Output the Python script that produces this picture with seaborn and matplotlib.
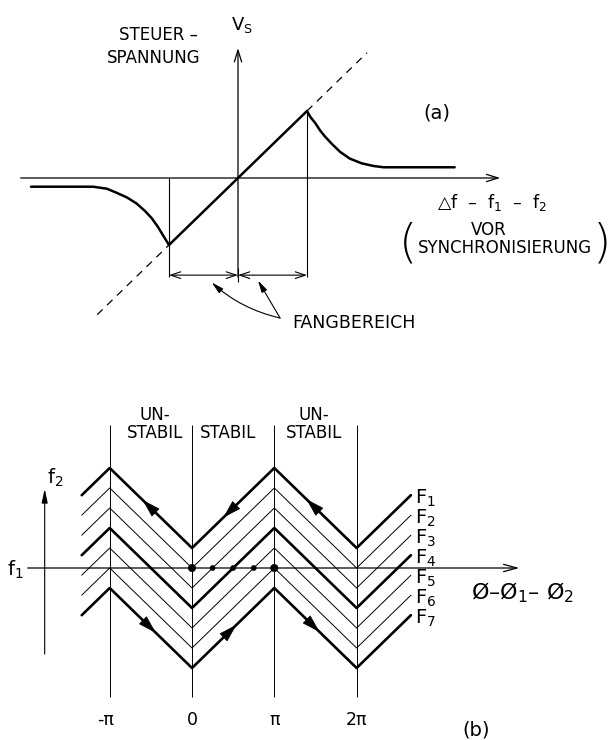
import numpy as np
import seaborn as sns
import matplotlib
matplotlib.use("Agg")
import matplotlib.pyplot as plt

sns.set_theme(style="white")
plt.rcParams["font.family"] = ["DejaVu Sans"]
plt.rcParams["mathtext.fontset"] = "dejavusans"
plt.rcParams["mathtext.default"] = "regular"
plt.rcParams["text.color"] = "black"

# ---- panel (a): Steuerspannung over frequency difference ----
lock_x = [-1.0, 1.0]
lock_y = [-1.0, 1.0]
dash_lo = [-2.04, -1.0]
dash_hi = [1.0, 1.87]
right_x = [1.00, 1.05, 1.12, 1.19, 1.26, 1.36, 1.48, 1.62, 1.79, 1.96, 2.11, 3.14]
right_y = [1.00, 0.91, 0.82, 0.71, 0.62, 0.51, 0.39, 0.29, 0.22, 0.18, 0.16, 0.16]
left_x = [-3.00, -2.10, -1.90, -1.76, -1.61, -1.47, -1.35, -1.25, -1.16, -1.09, -1.00]
left_y = [-0.13, -0.13, -0.16, -0.22, -0.29, -0.38, -0.49, -0.60, -0.73, -0.85, -1.00]
capture_edges = [-1.0, 1.0]
range_y = -1.45

# ---- panel (b): phase plane ----
phase_x = [-1.34, -1, 0, 1, 2, 2.66]          # in units of pi
zig = [0.32, 1, -1, 1, -1, 0.32]
offsets = [1.5, 1.0, 0.5, 0.0, -0.5, -1.0, -1.5]
names = ["F$_1$", "F$_2$", "F$_3$", "F$_4$", "F$_5$", "F$_6$", "F$_7$"]
thick = [True, False, False, True, False, False, True]
dot_x = [0, 0.25, 0.5, 0.75, 1.0]
dot_size = [30, 14, 14, 14, 30]
tick_pos = [-1, 0, 1, 2]
tick_lab = ["-π", "0", "π", "2π"]
arrow_x = [-0.52, 0.46, 1.47]

fig = plt.figure(figsize=(6.11, 7.40), dpi=100)
ax = fig.add_axes([0, 0.5, 1, 0.5])
bx = fig.add_axes([0, 0, 1, 0.5])

k = "black"

# panel (a)
ax.annotate("", xy=(3.84, 0), xytext=(-3.19, 0),
            arrowprops=dict(arrowstyle="->,head_length=0.7,head_width=0.22", color=k, lw=0.9))
ax.annotate("", xy=(0, 1.98), xytext=(0, -1.52),
            arrowprops=dict(arrowstyle="->,head_length=0.7,head_width=0.22", color=k, lw=0.9))
sns.lineplot(x=dash_lo, y=dash_lo, ax=ax, color=k, lw=0.9, linestyle=(0, (6, 5)))
sns.lineplot(x=dash_hi, y=dash_hi, ax=ax, color=k, lw=0.9, linestyle=(0, (6, 5)))
sns.lineplot(x=lock_x, y=lock_y, ax=ax, color=k, lw=1.8)
sns.lineplot(x=right_x, y=right_y, ax=ax, color=k, lw=1.8)
sns.lineplot(x=left_x, y=left_y, ax=ax, color=k, lw=1.8)
ax.vlines(capture_edges, [range_y - 0.03, range_y - 0.03], [0, 1], color=k, lw=0.8)
for e in capture_edges:
    ax.annotate("", xy=(e, range_y), xytext=(0, range_y),
                arrowprops=dict(arrowstyle="<->,head_length=0.6,head_width=0.2",
                                color=k, lw=0.8, shrinkA=0, shrinkB=0))
ax.vlines([0], [range_y - 0.1], [range_y + 0.1], color=k, lw=0.8)
ax.annotate("", xy=(-0.38, -1.56), xytext=(0.61, -2.09),
            arrowprops=dict(arrowstyle="-|>,head_length=0.6,head_width=0.15", color=k, lw=0.8,
                            connectionstyle="arc3,rad=-0.13", shrinkA=0, shrinkB=0))
ax.annotate("", xy=(0.29, -1.53), xytext=(0.61, -2.09),
            arrowprops=dict(arrowstyle="-|>,head_length=0.6,head_width=0.15", color=k, lw=0.8,
                            shrinkA=0, shrinkB=0))
ax.text(0.78, -2.16, "FANGBEREICH", fontsize=12.5, ha="left", va="center")
ax.text(0.06, 2.28, "V$_S$", fontsize=13, ha="center", va="center")
ax.text(-1.15, 2.13, "STEUER –", fontsize=12, ha="center", va="center")
ax.text(-1.22, 1.79, "SPANNUNG", fontsize=12, ha="center", va="center")
ax.text(2.88, 0.97, "(a)", fontsize=14, ha="center", va="center")
ax.text(3.68, -0.37, "△f  –  f$_1$  –  f$_2$", fontsize=12.5, ha="center", va="center")
ax.text(3.64, -0.78, "VOR", fontsize=12, ha="center", va="center")
ax.text(3.87, -1.04, "SYNCHRONISIERUNG", fontsize=12, ha="center", va="center")
ax.text(2.46, -0.98, "(", fontsize=34, ha="center", va="center", fontweight="light")
ax.text(5.27, -0.98, ")", fontsize=34, ha="center", va="center", fontweight="light")
ax.set_xlim(-3.449, 5.406)
ax.set_ylim(-2.866, 2.657)
ax.set_axis_off()

# panel (b)
bx.vlines(tick_pos, -3.22, 3.58, color=k, lw=0.7)
bx.annotate("", xy=(4.01, 0), xytext=(-2.03, 0),
            arrowprops=dict(arrowstyle="->,head_length=0.8,head_width=0.22", color=k, lw=0.9))
bx.annotate("", xy=(-1.79, 2.05), xytext=(-1.79, -2.22),
            arrowprops=dict(arrowstyle="-|>,head_length=0.7,head_width=0.15", color=k, lw=0.8))
zig = np.array(zig)
for c, name, t in zip(offsets, names, thick):
    sns.lineplot(x=phase_x, y=zig + c, ax=bx, color=k, lw=1.9 if t else 0.7)
    bx.text(2.71, c + zig[-1] - 0.08, name, fontsize=14, ha="left", va="center")
for c, d in [(offsets[0], -1), (offsets[-1], 1)]:
    for ax0 in arrow_x:
        x0, x1 = ax0 - 0.08 * d, ax0 + 0.08 * d
        y0 = np.interp(x0, phase_x, zig + c)
        y1 = np.interp(x1, phase_x, zig + c)
        bx.annotate("", xy=(x1, y1), xytext=(x0, y0),
                    arrowprops=dict(arrowstyle="-|>,head_length=1.0,head_width=0.3",
                                    color=k, lw=0.5, shrinkA=0, shrinkB=0))
sns.scatterplot(x=dot_x, y=[0] * len(dot_x), ax=bx, color=k, size=dot_size,
                sizes=(14, 30), legend=False, edgecolor=k)
for p, lab in zip(tick_pos, tick_lab):
    bx.text(p - (0.05 if p == -1 else 0), -3.8, lab, fontsize=12.5, ha="center", va="center")
bx.text(3.45, -4.05, "(b)", fontsize=14, ha="center", va="center")
bx.text(-2.15, -0.05, "f$_1$", fontsize=14, ha="center", va="center")
bx.text(-1.66, 2.25, "f$_2$", fontsize=14, ha="center", va="center")
bx.text(4.02, -0.62, "Ø–Ø$_1$– Ø$_2$", fontsize=16, ha="center", va="center")
for xc, top in [(-0.45, True), (0.44, False), (1.48, True)]:
    if top:
        bx.text(xc, 3.83, "UN-", fontsize=12, ha="center", va="center")
    bx.text(xc, 3.38, "STABIL", fontsize=12, ha="center", va="center")
bx.set_xlim(-2.333, 5.091)
bx.set_ylim(-4.3, 4.95)
bx.set_axis_off()

fig.savefig("out.png", dpi=100)
